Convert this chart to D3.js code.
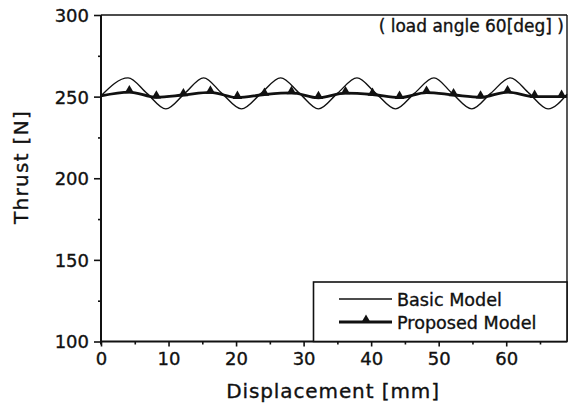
<!DOCTYPE html>
<html>
<head>
<meta charset="utf-8">
<script src="https://cdn.jsdelivr.net/npm/d3@7"></script>
<style>
  html, body { margin: 0; padding: 0; background: #fff; }
  svg { display: block; }
  text { font-family: "DejaVu Sans", sans-serif; fill: #111; stroke: #111; stroke-width: 0.35px; }
</style>
</head>
<body>
<svg id="chart" width="569" height="407"></svg>
<script>
// ---- data ----
const basicX = [0, 4.0, 6.8, 9.6, 12.4, 15.2, 17.9, 20.8, 23.7, 26.6, 29.4, 32.2, 35.0, 37.9, 40.7, 43.6, 46.4, 49.3, 52.0, 54.9, 57.7, 60.6, 63.4, 66.2, 69.0];
const basicY = [250.5, 261.5, 252, 242.5, 252, 261.5, 252, 242.5, 252, 261.5, 252, 242.5, 252, 261.5, 252, 242.5, 252, 261.5, 252, 242.5, 252, 261.5, 252, 242.5, 251.5];

const proposedX = [0, 4.2, 8.2, 12.2, 16.2, 20.2, 24.2, 28.2, 32.2, 36.2, 40.2, 44.2, 48.2, 52.2, 56.2, 60.2, 64.2, 68.2, 69.0];
const proposedY = [250.5, 252.8, 249.6, 251.0, 252.6, 249.4, 251.3, 252.3, 249.3, 252.2, 251.3, 249.4, 252.5, 251.0, 249.6, 252.8, 250.0, 250.0, 250.2];
const markerX = [4.2, 8.2, 12.2, 16.2, 20.2, 24.2, 28.2, 32.2, 36.2, 40.2, 44.2, 48.2, 52.2, 56.2, 60.2, 64.2, 68.2];
const markerY = [252.8, 249.6, 251.0, 252.6, 249.4, 251.3, 252.3, 249.3, 252.2, 251.3, 249.4, 252.5, 251.0, 249.6, 252.8, 250.0, 250.0];

const xTicks = [0, 10, 20, 30, 40, 50, 60];
const xMinorTicks = [5, 15, 25, 35, 45, 55, 65];
const yTicks = [100, 150, 200, 250, 300];
const yMinorTicks = [125, 175, 225, 275];
const seriesNames = ["Basic Model", "Proposed Model"];
const titleText = "( load angle 60[deg] )";
const xLabel = "Displacement [mm]";
const yLabel = "Thrust [N]";

// ---- layout ----
const svg = d3.select("#chart");
const L = 101, R = 567, T = 15, B = 341.5;
const x = d3.scaleLinear().domain([0, 69]).range([L, R]);
const y = d3.scaleLinear().domain([100, 300]).range([B, T]);

// frame top and right
svg.append("line").attr("x1", L).attr("x2", R).attr("y1", T).attr("y2", T)
  .attr("stroke", "#111").attr("stroke-width", 1.6);
svg.append("line").attr("x1", R).attr("x2", R).attr("y1", T).attr("y2", B)
  .attr("stroke", "#111").attr("stroke-width", 1.4);

// axes
const xAxis = svg.append("g").attr("transform", `translate(0,${B})`)
  .call(d3.axisBottom(x).tickValues(xTicks).tickSize(5).tickPadding(6).tickFormat(d3.format("d")));
const xMinor = svg.append("g").attr("transform", `translate(0,${B})`)
  .call(d3.axisBottom(x).tickValues(xMinorTicks).tickSize(3).tickFormat(""));
const yAxis = svg.append("g").attr("transform", `translate(${L},0)`)
  .call(d3.axisLeft(y).tickValues(yTicks).tickSize(7).tickPadding(5).tickFormat(d3.format("d")));
const yMinor = svg.append("g").attr("transform", `translate(${L},0)`)
  .call(d3.axisLeft(y).tickValues(yMinorTicks).tickSize(3).tickFormat(""));

[xAxis, xMinor, yAxis, yMinor].forEach(g => {
  g.select(".domain").attr("stroke", "#111").attr("stroke-width", 2);
  g.selectAll(".tick line").attr("stroke", "#111").attr("stroke-width", 1.6);
});
xMinor.select(".domain").remove();
yMinor.select(".domain").remove();
xAxis.select(".domain").attr("d", `M${L},0H${R}`);
yAxis.select(".domain").attr("d", `M0,${B + 3}V${T}`);
xAxis.selectAll(".tick text").attr("font-size", 18).attr("fill", "#111");
yAxis.selectAll(".tick text").attr("font-size", 18).attr("fill", "#111").attr("dy", "0.36em");

// series
const lineGen = d3.line().x(d => x(d[0])).y(d => y(d[1])).curve(d3.curveMonotoneX);
const basicData = basicX.map((v, i) => [v, basicY[i]]);
const propData = proposedX.map((v, i) => [v, proposedY[i]]);

svg.append("path").datum(basicData).attr("d", lineGen)
  .attr("fill", "none").attr("stroke", "#111").attr("stroke-width", 1.4);
svg.append("path").datum(propData).attr("d", lineGen)
  .attr("fill", "none").attr("stroke", "#111").attr("stroke-width", 2.8);

const tri = d3.symbol().type(d3.symbolTriangle).size(40);
svg.append("g").selectAll("path").data(markerX.map((v, i) => [v, markerY[i]])).join("path")
  .attr("d", tri)
  .attr("transform", d => `translate(${x(d[0])},${y(d[1]) - 1.5})`)
  .attr("fill", "#111");

// title
svg.append("text").attr("x", 564).attr("y", 32).attr("text-anchor", "end")
  .attr("font-size", 17).text(titleText);

// axis labels
svg.append("text").attr("x", (L + R) / 2 - 1).attr("y", 398).attr("text-anchor", "middle")
  .attr("font-size", 20).attr("letter-spacing", 0.9).text(xLabel);
svg.append("text").attr("transform", "translate(28,167) rotate(-90)").attr("text-anchor", "middle")
  .attr("font-size", 20).attr("letter-spacing", 1.3).text(yLabel);

// legend
const lg = svg.append("g");
lg.append("rect").attr("x", 313.5).attr("y", 282).attr("width", R - 313.5).attr("height", B - 282)
  .attr("fill", "#fff").attr("stroke", "#111").attr("stroke-width", 1.6);
lg.append("line").attr("x1", 339).attr("x2", 392).attr("y1", 299).attr("y2", 299)
  .attr("stroke", "#111").attr("stroke-width", 1.4);
lg.append("text").attr("x", 397).attr("y", 306).attr("font-size", 17.6).text(seriesNames[0]);
lg.append("line").attr("x1", 339).attr("x2", 392).attr("y1", 322).attr("y2", 322)
  .attr("stroke", "#111").attr("stroke-width", 2.8);
lg.append("path").attr("d", tri).attr("transform", "translate(366,320)").attr("fill", "#111");
lg.append("text").attr("x", 397).attr("y", 329).attr("font-size", 17.6).text(seriesNames[1]);
</script>
</body>
</html>
